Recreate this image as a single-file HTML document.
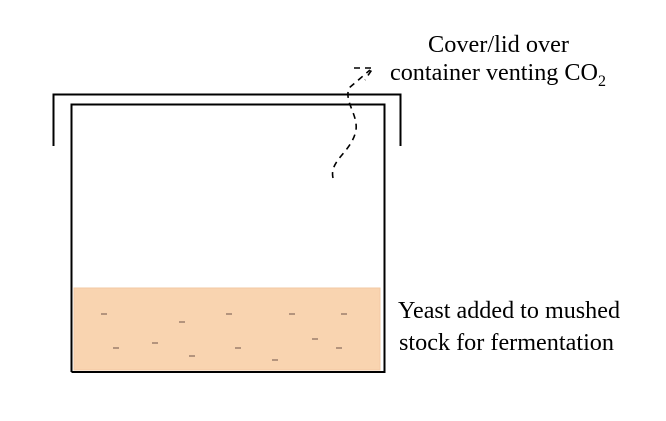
<!DOCTYPE html>
<html><head><style>html,body{margin:0;padding:0;background:#fff}</style></head>
<body>
<svg width="666" height="416" viewBox="0 0 666 416" xmlns="http://www.w3.org/2000/svg">
<rect width="666" height="416" fill="#fff"/>
<polyline points="53.5,146 53.5,94.5 400.5,94.5 400.5,146" fill="none" stroke="#000" stroke-width="2"/>
<polyline points="71.5,372 71.5,104.5 384.5,104.5 384.5,372 71.5,372" fill="none" stroke="#000" stroke-width="2"/>
<rect x="74" y="288" width="306" height="82" fill="#f9d4b0" stroke="#f2c9a3" stroke-width="1"/>
<g stroke="#9c7e6c" stroke-width="1.5">
<line x1="101" y1="314" x2="107" y2="314"/><line x1="179" y1="322" x2="185" y2="322"/>
<line x1="226" y1="314" x2="232" y2="314"/><line x1="289" y1="314" x2="295" y2="314"/>
<line x1="341" y1="314" x2="347" y2="314"/><line x1="113" y1="348" x2="119" y2="348"/>
<line x1="152" y1="343" x2="158" y2="343"/><line x1="189" y1="356" x2="195" y2="356"/>
<line x1="235" y1="348" x2="241" y2="348"/><line x1="272" y1="360" x2="278" y2="360"/>
<line x1="312" y1="339" x2="318" y2="339"/><line x1="336" y1="348" x2="342" y2="348"/>
</g>
<g fill="none" stroke="#000" stroke-width="1.6" stroke-dasharray="6,5">
<path d="M333,178 C329,160 352,152 356,130 C358,114 344,102 349,88 L370,70"/>
<path d="M354,68 L373,68 L365,80"/>
</g>
<g font-family="Liberation Serif, serif" font-size="24" fill="#000">
<text x="428" y="52" textLength="141" lengthAdjust="spacingAndGlyphs">Cover/lid over</text>
<text x="390" y="80" textLength="208" lengthAdjust="spacingAndGlyphs">container venting CO</text>
<text x="598" y="86" font-size="16">2</text>
<text x="398" y="318" textLength="222" lengthAdjust="spacingAndGlyphs">Yeast added to mushed</text>
<text x="399" y="350" textLength="215" lengthAdjust="spacingAndGlyphs">stock for fermentation</text>
</g>
</svg>
</body></html>
